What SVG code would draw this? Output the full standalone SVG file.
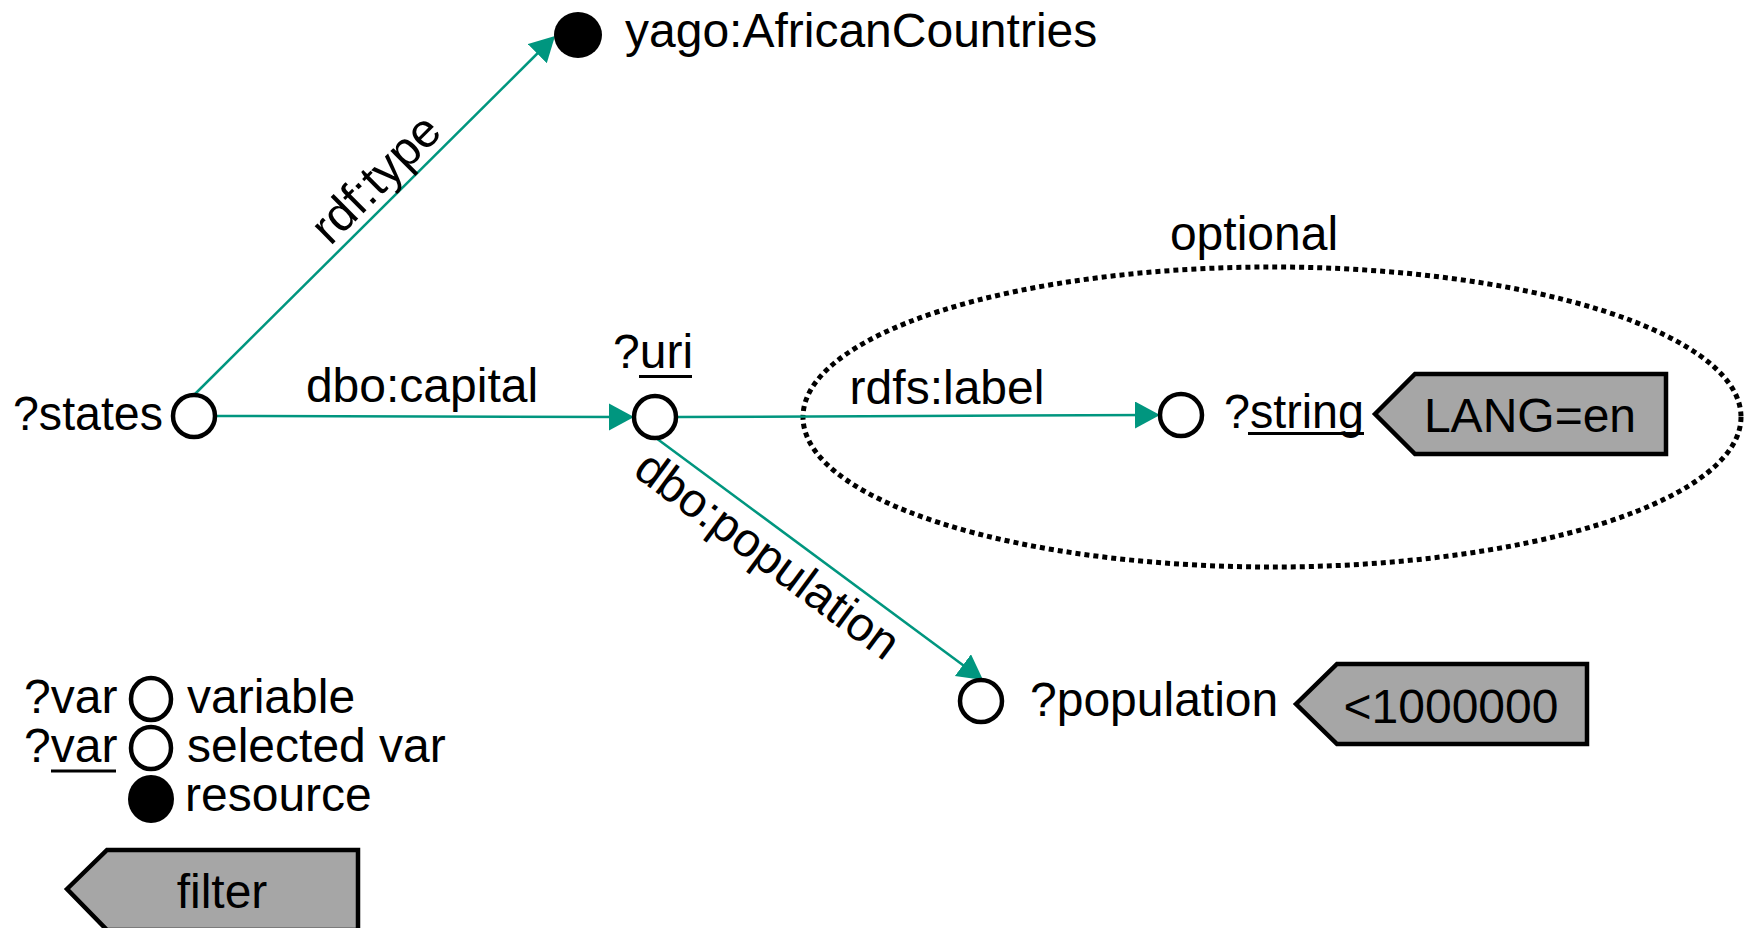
<svg xmlns="http://www.w3.org/2000/svg" width="1744" height="928" viewBox="0 0 1744 928">
<style>
text{font-family:"Liberation Sans",Arial,sans-serif;font-size:48px;fill:#000}
.var{fill:#fff;stroke:#000;stroke-width:4.5}
.res{fill:#000}
.edge{stroke:#00967F;stroke-width:2.5;fill:none;marker-end:url(#arr)}
.filter{fill:#A6A6A6;stroke:#000;stroke-width:4.5;stroke-linejoin:miter}
.ul{stroke:#000;stroke-width:3}
.mid{text-anchor:middle}
</style>
<defs>
<marker id="arr" markerUnits="userSpaceOnUse" markerWidth="26" markerHeight="28" refX="15" refY="13.5" orient="auto">
<path d="M0,0 L25,13.5 L0,27 Z" fill="#00967F"/>
</marker>
</defs>
<rect width="1744" height="928" fill="#fff"/>
<g id="optional">
<ellipse cx="1272" cy="417" rx="469" ry="150" fill="none" stroke="#000" stroke-width="5" stroke-dasharray="5 4"/>
<text class="mid" x="1254" y="250">optional</text>
</g>
<g id="connectors">
<path class="edge" d="M194,395 L547.9,43"/>
<path class="edge" d="M215,416 L624,417"/>
<path class="edge" d="M676,417 L1150,415"/>
<path class="edge" d="M656,438 L975,674"/>
<text class="mid" transform="translate(387,190) rotate(-44.8)">rdf:type</text>
<text class="mid" x="422" y="402">dbo:capital</text>
<text class="mid" x="947" y="404">rdfs:label</text>
<text class="mid" transform="translate(758,568) rotate(36.5)">dbo:population</text>
</g>
<g id="yago">
<ellipse class="res" cx="578" cy="35" rx="24" ry="23"/>
<text x="625" y="47">yago:AfricanCountries</text>
</g>
<g id="states">
<circle class="var" cx="194" cy="416" r="21"/>
<text x="13" y="430" textLength="150" lengthAdjust="spacingAndGlyphs">?states</text>
</g>
<g id="uri">
<circle class="var" cx="655" cy="417" r="21"/>
<text x="613" y="368">?uri</text>
<line class="ul" x1="639" y1="376.5" x2="692" y2="376.5"/>
</g>
<g id="string">
<circle class="var" cx="1181" cy="415" r="21"/>
<text x="1224" y="428" textLength="140" lengthAdjust="spacingAndGlyphs">?string</text>
<line class="ul" x1="1248" y1="433.5" x2="1364" y2="433.5"/>
</g>
<g id="lang-filter">
<path class="filter" d="M1375,414 L1415,374 L1666,374 L1666,454 L1415,454 Z"/>
<text class="mid" x="1530" y="432">LANG=en</text>
</g>
<g id="population">
<circle class="var" cx="981" cy="701" r="21"/>
<text x="1030" y="716">?population</text>
</g>
<g id="pop-filter">
<path class="filter" d="M1296,704 L1337,664 L1587,664 L1587,744 L1337,744 Z"/>
<text class="mid" x="1451" y="723">&lt;1000000</text>
</g>
<g id="legend">
<text x="24" y="713">?var</text>
<ellipse class="var" cx="151" cy="699" rx="20" ry="21"/>
<text x="187" y="713">variable</text>
<text x="24" y="762">?var</text>
<line class="ul" x1="51" y1="771" x2="116" y2="771"/>
<ellipse class="var" cx="151" cy="748" rx="20" ry="21"/>
<text x="187" y="762">selected var</text>
<ellipse class="res" cx="151" cy="799" rx="23" ry="24"/>
<text x="185" y="811">resource</text>
</g>
<g id="filter-legend">
<path class="filter" d="M67,889 L107,850 L358,850 L358,930 L107,930 Z"/>
<text class="mid" x="222" y="908">filter</text>
</g>
</svg>
